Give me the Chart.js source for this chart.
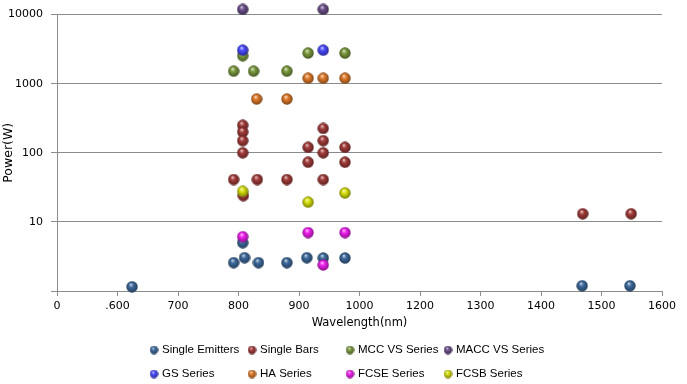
<!DOCTYPE html>
<html>
<head>
<meta charset="utf-8">
<script src="https://cdn.jsdelivr.net/npm/chart.js@4.4.0/dist/chart.umd.min.js"></script>
<style>
  html, body { margin: 0; padding: 0; background: #fff; }
</style>
</head>
<body>
<canvas id="chart" width="687" height="384"></canvas>
<script>
// tick labels as printed on the x axis (one per 100 units of axis)
const xTickLabels = ["0", ".600", "700", "800", "900", "1000", "1200", "1300", "1400", "1500", "1600"];
const yTickValues = [1, 10, 100, 1000, 10000];

const seriesNames = ["Single Emitters", "Single Bars", "MCC VS Series", "MACC VS Series",
                     "GS Series", "HA Series", "FCSE Series", "FCSB Series"];
const seriesColors = ["#3d6a9c", "#a23c3a", "#7b9a3e", "#6b4f8a",
                      "#4a4aff", "#e07a2a", "#f020f0", "#d6e00a"];

// x = position on the wavelength axis, y = power (W)
const singleEmittersX = [624, 792, 810, 807, 833, 880, 913, 940, 976, 1368, 1447];
const singleEmittersY = [1.15, 2.57, 3.03, 5.0, 2.57, 2.57, 3.03, 3.0, 3.0, 1.19, 1.19];

const singleBarsX = [807, 807, 807, 807, 808, 792, 831, 880, 940, 940, 940, 940, 915, 976, 915, 976, 1369, 1449];
const singleBarsY = [250, 200, 150, 100, 24, 41, 41, 41, 41, 225, 150, 100, 120, 120, 73, 73, 13.1, 13.1];

const mccX = [807, 915, 976, 792, 825, 880];
const mccY = [2540, 2770, 2770, 1520, 1520, 1520];

const maccX = [807, 940];
const maccY = [11900, 11900];

const gsX = [807, 940];
const gsY = [3060, 3060];

const haX = [915, 940, 976, 830, 880];
const haY = [1200, 1200, 1200, 600, 600];

const fcseX = [807, 915, 976, 940];
const fcseY = [6.1, 7.0, 7.0, 2.38];

const fcsbX = [807, 915, 976];
const fcsbY = [27.7, 19.3, 26.2];

const seriesX = [singleEmittersX, singleBarsX, mccX, maccX, gsX, haX, fcseX, fcsbX];
const seriesY = [singleEmittersY, singleBarsY, mccY, maccY, gsY, haY, fcseY, fcsbY];

// shaded ball marker
function mix(hex, target, t) {
  const n = parseInt(hex.slice(1), 16);
  const r = (n >> 16) & 255, g = (n >> 8) & 255, b = n & 255;
  const f = v => Math.round(v + (target - v) * t);
  return `rgb(${f(r)},${f(g)},${f(b)})`;
}
function sphere(color, size) {
  const c = document.createElement('canvas');
  c.width = size; c.height = size;
  const g = c.getContext('2d');
  const r = size / 2;
  const grad = g.createRadialGradient(r * 0.8, r * 0.6, r * 0.05, r, r, r);
  grad.addColorStop(0, mix(color, 255, 0.7));
  grad.addColorStop(0.35, color);
  grad.addColorStop(1, mix(color, 0, 0.45));
  g.fillStyle = grad;
  g.beginPath();
  g.arc(r, r, r - 0.3, 0, Math.PI * 2);
  g.fill();
  return c;
}

const datasets = seriesNames.map((name, i) => ({
  label: name,
  data: seriesX[i].map((x, j) => ({ x: x, y: seriesY[i][j] })),
  pointStyle: sphere(seriesColors[i], 12),
  legendMarker: sphere(seriesColors[i], 9),
  pointHoverRadius: 12, // widens the draw margin so points just above the top line still show
  backgroundColor: seriesColors[i],
  borderColor: seriesColors[i],
  order: seriesNames.length - i,
  clip: false
}));

const gridLegend = {
  id: 'gridLegend',
  afterDraw(chart) {
    const ctx = chart.ctx;
    ctx.save();
    ctx.font = '11.5px "Liberation Sans", Arial, sans-serif';
    ctx.textBaseline = 'middle';
    ctx.fillStyle = '#000';
    chart.data.datasets.forEach((ds, i) => {
      const x = 154 + (i % 4) * 98;
      const y = 350 + Math.floor(i / 4) * 24;
      ctx.drawImage(ds.legendMarker, x - 4.5, y - 4.5);
      ctx.fillText(ds.label, x + 8, y);
    });
    ctx.restore();
  }
};

const axisFont = { family: '"DejaVu Sans", Verdana, sans-serif', size: 11 };

new Chart(document.getElementById('chart'), {
  type: 'scatter',
  data: { datasets: datasets },
  options: {
    responsive: false,
    animation: false,
    events: [],
    layout: { padding: { left: 0, top: 11, right: 25, bottom: 51 } },
    plugins: { legend: { display: false }, tooltip: { enabled: false } },
    scales: {
      x: {
        type: 'linear',
        min: 500,
        max: 1500,
        afterBuildTicks: s => { s.ticks = xTickLabels.map((_, i) => ({ value: 500 + i * 100 })); },
        afterFit: s => { s.height = 42; },
        ticks: {
          autoSkip: false,
          maxRotation: 0,
          padding: 4,
          color: '#000',
          font: axisFont,
          callback: (v, i) => xTickLabels[i]
        },
        grid: { drawOnChartArea: false, drawTicks: true, tickLength: 5, color: '#8c8c8c' },
        border: { color: '#8c8c8c', width: 1 },
        title: { display: true, text: 'Wavelength(nm)', color: '#000',
                 font: { family: axisFont.family, size: 11.5 }, padding: { top: 0, bottom: 3 } }
      },
      y: {
        type: 'logarithmic',
        min: 1,
        max: 10000,
        afterBuildTicks: s => { s.ticks = yTickValues.map(v => ({ value: v })); },
        afterFit: s => { s.width = 57; },
        ticks: {
          padding: 8,
          color: '#000',
          font: axisFont,
          callback: v => (v === 1 ? '' : String(v))
        },
        grid: { color: '#8c8c8c', tickLength: 6, lineWidth: 1 },
        border: { color: '#8c8c8c', width: 1 },
        title: { display: true, text: 'Power(W)', color: '#000',
                 font: { family: axisFont.family, size: 12.5 }, padding: { top: 1, bottom: 0 } }
      }
    }
  },
  plugins: [gridLegend]
});
</script>
</body>
</html>
